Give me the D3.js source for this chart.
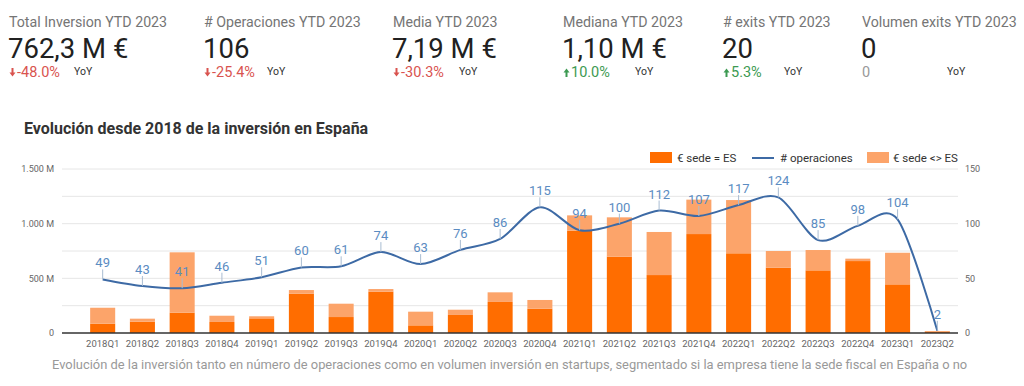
<!DOCTYPE html>
<html>
<head>
<meta charset="utf-8">
<script src="https://cdn.jsdelivr.net/npm/d3@7"></script>
<style>
  body { margin: 0; background: #fff; }
  svg { font-family: Roboto, "Noto Sans", sans-serif; }
</style>
</head>
<body>
<div id="chart"></div>
<script>
// Quarterly data, 2018Q1 .. 2023Q2
const quarters = ["2018Q1","2018Q2","2018Q3","2018Q4","2019Q1","2019Q2","2019Q3","2019Q4",
  "2020Q1","2020Q2","2020Q3","2020Q4","2021Q1","2021Q2","2021Q3","2021Q4",
  "2022Q1","2022Q2","2022Q3","2022Q4","2023Q1","2023Q2"];
// investment in M€, HQ in Spain
const sedeES = [85,103,186,101,134,360,146,378,70,165,284,222,936,698,530,905,729,597,573,658,445,14];
// investment in M€, HQ outside Spain
const sedeNoES = [146,28,552,57,19,33,122,24,125,48,88,80,140,360,394,315,487,153,186,22,289,4];
// number of deals
const operaciones = [49,43,41,46,51,60,61,74,63,76,86,115,94,100,112,107,117,124,85,98,104,2];

const leftTicks = [0, 500, 1000, 1500];
const rightTicks = [0, 50, 100, 150];

// KPI cards
const kpiTitles = ["Total Inversion YTD 2023","# Operaciones YTD 2023","Media YTD 2023","Mediana YTD 2023","# exits YTD 2023","Volumen exits YTD 2023"];
const kpiValues = ["762,3 M €","106","7,19 M €","1,10 M €","20","0"];
const kpiDeltas = ["-48.0%","-25.4%","-30.3%","10.0%","5.3%","0"];
const kpiDir = ["down","down","down","up","up","none"];

const width = 1024;
const height = 386;
const margin = {left: 62, right: 66, top: 169, bottom: 53};

const svg = d3.select("#chart")
  .append("svg")
  .attr("width", width)
  .attr("height", height);

/* KPI header */
const kpiX = [9, 204, 393, 563, 723, 862];
const yoyX = [74, 267, 459, 635, 784, 947];
const colors = {down: "#d9534f", up: "#3d9a52", none: "#999"};

kpiTitles.forEach((t, i) => {
  const g = svg.append("g").attr("transform", `translate(${kpiX[i]},0)`);
  g.append("text").attr("x", 0).attr("y", 27)
    .attr("font-size", 14.2).attr("fill", "#757575").text(t);
  g.append("text").attr("x", -1).attr("y", 58)
    .attr("font-size", 27.5).attr("fill", "#212121").text(kpiValues[i]);
  const dir = kpiDir[i];
  let tx = 0;
  if (dir !== "none") {
    // small arrow icon
    const a = dir === "down" ? "M2.5,68 h2 v4.5 h2 l-3,4 l-3,-4 h2 z" : "M2.5,77 h2 v-4.5 h2 l-3,-4 l-3,4 h2 z";
    g.append("path").attr("d", a).attr("fill", colors[dir]);
    tx = 8;
  }
  g.append("text").attr("x", tx).attr("y", 77)
    .attr("font-size", 14.5).attr("fill", colors[dir]).text(kpiDeltas[i]);
  svg.append("text").attr("x", yoyX[i]).attr("y", 75)
    .attr("font-size", 10.5).attr("fill", "#333").text("YoY");
});

/* Chart title */
svg.append("text")
  .attr("x", 24).attr("y", 134)
  .attr("font-size", 16).attr("font-weight", 700).attr("fill", "#333")
  .text("Evolución desde 2018 de la inversión en España");

/* Scales */
const y0 = height - margin.bottom; // 333
const yLeft = d3.scaleLinear().domain([0, 1500]).range([y0, margin.top]);
const yRight = d3.scaleLinear().domain([0, 150]).range([y0, margin.top]);
const x = d3.scaleBand()
  .domain(quarters)
  .range([83, 957])
  .paddingInner(0.37)
  .paddingOuter(0.18);

/* Gridlines */
svg.append("g")
  .selectAll("line")
  .data(d3.range(250, 1501, 250))
  .enter().append("line")
  .attr("x1", margin.left).attr("x2", width - margin.right)
  .attr("y1", d => yLeft(d)).attr("y2", d => yLeft(d))
  .attr("stroke", "#e6e6e6").attr("stroke-width", 1);

/* Left axis */
svg.append("g")
  .attr("transform", `translate(${margin.left - 5},0)`)
  .call(d3.axisLeft(yLeft).tickValues(leftTicks).tickSize(0)
    .tickFormat(d => d === 0 ? "0" : d3.format(",")(d).replace(",", ".") + " M"))
  .call(g => g.select(".domain").remove())
  .call(g => g.selectAll("text").attr("fill", "#666").attr("font-size", 9).attr("font-family", "Roboto"));

/* Right axis */
svg.append("g")
  .attr("transform", `translate(${width - margin.right + 4},0)`)
  .call(d3.axisRight(yRight).tickValues(rightTicks).tickSize(0))
  .call(g => g.select(".domain").remove())
  .call(g => g.selectAll("text").attr("fill", "#666").attr("font-size", 9).attr("font-family", "Roboto"));

/* Stacked bars */
const rows = quarters.map((q, i) => ({q: q, es: sedeES[i], no: sedeNoES[i]}));
const stack = d3.stack().keys(["es", "no"])(rows);
const barColors = {es: "#ff6d00", no: "#fca46a"};

stack.forEach(layer => {
  svg.append("g")
    .selectAll("rect")
    .data(layer)
    .enter().append("rect")
    .attr("x", d => x(d.data.q))
    .attr("y", d => yLeft(d[1]))
    .attr("width", x.bandwidth())
    .attr("height", d => yLeft(d[0]) - yLeft(d[1]))
    .attr("fill", barColors[layer.key]);
});

/* Baseline */
svg.append("line")
  .attr("x1", margin.left).attr("x2", width - margin.right)
  .attr("y1", y0).attr("y2", y0)
  .attr("stroke", "#333").attr("stroke-width", 1.3);

/* X axis */
svg.append("g")
  .attr("transform", `translate(0,${y0 + 4})`)
  .call(d3.axisBottom(x).tickSize(0))
  .call(g => g.select(".domain").remove())
  .call(g => g.selectAll("text").attr("fill", "#666").attr("font-size", 9.5).attr("font-family", "Roboto"));

/* Line: # operaciones */
const cx = q => x(q) + x.bandwidth() / 2;
const line = d3.line()
  .x((d, i) => cx(quarters[i]))
  .y(d => yRight(d))
  .curve(d3.curveCardinal.tension(0.1));

svg.append("path")
  .datum(operaciones)
  .attr("d", line)
  .attr("fill", "none")
  .attr("stroke", "#3d6aa5")
  .attr("stroke-width", 2);

// data labels with small stems
const lbl = svg.append("g");
operaciones.forEach((v, i) => {
  const px = cx(quarters[i]);
  const py = yRight(v);
  lbl.append("line")
    .attr("x1", px).attr("x2", px).attr("y1", py).attr("y2", py - 10)
    .attr("stroke", "#a9bcd2").attr("stroke-width", 1);
  lbl.append("text")
    .attr("x", px).attr("y", py - 12)
    .attr("text-anchor", "middle")
    .attr("font-size", 13).attr("fill", "#5b8cc2")
    .text(v);
});

/* Legend */
const legend = svg.append("g");
legend.append("rect").attr("x", 650).attr("y", 152).attr("width", 22).attr("height", 11).attr("fill", barColors.es);
legend.append("text").attr("x", 677).attr("y", 162).attr("font-size", 11.5).attr("fill", "#333").text("€ sede = ES");
legend.append("line").attr("x1", 752).attr("x2", 774).attr("y1", 158).attr("y2", 158).attr("stroke", "#3d6aa5").attr("stroke-width", 2);
legend.append("text").attr("x", 780).attr("y", 162).attr("font-size", 11.5).attr("fill", "#333").text("# operaciones");
legend.append("rect").attr("x", 867).attr("y", 152).attr("width", 22).attr("height", 11).attr("fill", barColors.no);
legend.append("text").attr("x", 893).attr("y", 162).attr("font-size", 11.5).attr("fill", "#333").text("€ sede <> ES");

/* Footer */
svg.append("text")
  .attr("x", 52).attr("y", 369)
  .attr("font-size", 12.9).attr("fill", "#999")
  .text("Evolución de la inversión tanto en número de operaciones como en volumen inversión en startups, segmentado si la empresa tiene la sede fiscal en España o no");
</script>
</body>
</html>
